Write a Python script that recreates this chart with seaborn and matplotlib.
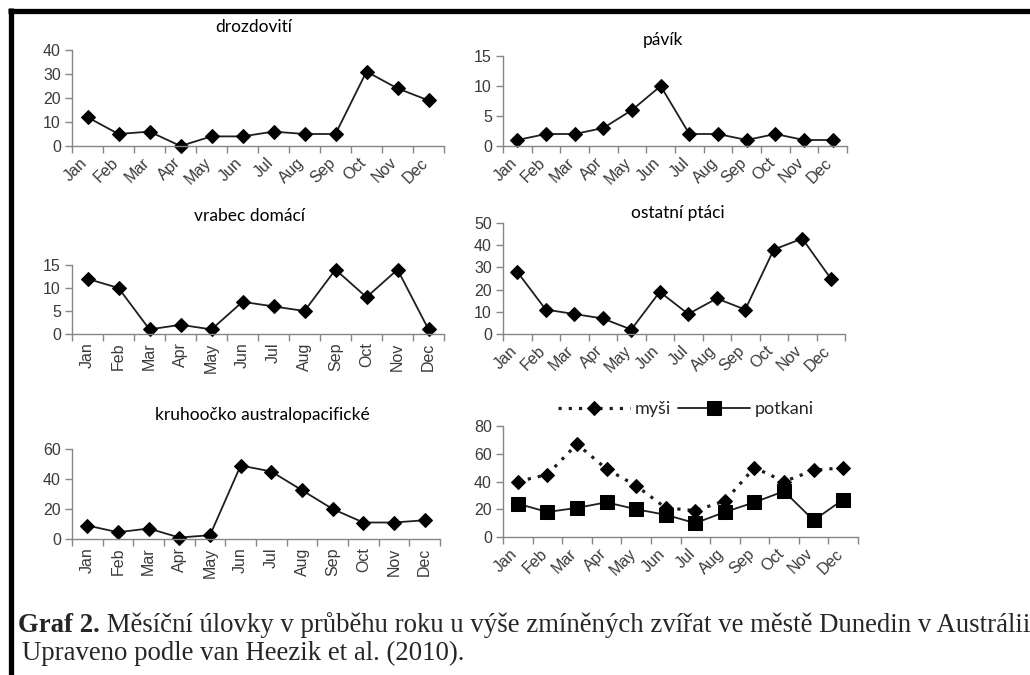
import numpy as np
import pandas as pd
import matplotlib
matplotlib.use("Agg")
import matplotlib.pyplot as plt
import matplotlib.transforms as mtransforms
from matplotlib.lines import Line2D
from matplotlib.text import Annotation
import seaborn as sns

# ---------------- data ----------------
months = ["Jan", "Feb", "Mar", "Apr", "May", "Jun",
          "Jul", "Aug", "Sep", "Oct", "Nov", "Dec"]

drozdoviti = [12, 5, 6, 0, 4, 4, 6, 5, 5, 31, 24, 19]
pavik = [1, 2, 2, 3, 6, 10, 2, 2, 1, 2, 1, 1]
vrabec = [12, 10, 1, 2, 1, 7, 6, 5, 14, 8, 14, 1]
ostatni = [28, 11, 9, 7, 2, 19, 9, 16, 11, 38, 43, 25]
kruhoocko = [9, 4.5, 7, 1, 2.5, 49, 45, 32.5, 20, 11, 11, 12.5]
mysi = [40, 45, 67, 49, 37, 21, 19, 26, 50, 40, 48, 50]
potkani = [24, 18, 21, 25, 20, 16, 10, 18, 25, 33, 12, 27]

titles = ["drozdovití", "pávík", "vrabec domácí", "ostatní ptáci",
          "kruhoočko australopacifické"]
legend_labels = ["myši", "potkani"]
caption_bold = "Graf 2."
caption_rest = " Měsíční úlovky v průběhu roku u výše zmíněných zvířat ve městě Dunedin v Austrálii"
caption_line2 = "Upraveno podle van Heezik et al. (2010)."

# ---------------- style ----------------
sns.set_style("white")
plt.rcParams["font.family"] = ["Liberation Sans", "DejaVu Sans"]

W, H = 1030, 675
fig = plt.figure(figsize=(W / 100, H / 100), dpi=100)
fig.patch.set_facecolor("white")

AXIS_C = "#868686"
TXT_C = "#3a3a3a"
LINE_C = "#1e1e1e"
TITLE_FONT = ["Lato", "DejaVu Sans"]
TICK_FS = 11.5
CAP_FS = 19.3


def px_axes(x0, x1, ytop, ybot):
    return fig.add_axes([x0 / W, 1 - ybot / H, (x1 - x0) / W, (ybot - ytop) / H])


def style_axes(ax, ymax, ystep, rot):
    ax.set_facecolor("white")
    ax.set_xlim(-0.5, 11.5)
    ax.set_ylim(0, ymax)
    ax.set_yticks(np.arange(0, ymax + 0.01, ystep))
    ax.set_xticks(range(12), labels=months)
    ax.set_xticks(np.arange(13) - 0.5, minor=True)
    for s in ["top", "right"]:
        ax.spines[s].set_visible(False)
    for s in ["left", "bottom"]:
        ax.spines[s].set_color(AXIS_C)
        ax.spines[s].set_linewidth(1.0)
    ax.tick_params(axis="y", direction="out", length=5, width=1.0, color=AXIS_C,
                   labelsize=TICK_FS, labelcolor=TXT_C, pad=3, left=True)
    ax.tick_params(axis="x", which="major", length=0, labelsize=TICK_FS,
                   labelcolor=TXT_C, bottom=True, pad=(6.5 if rot == 45 else 6))
    ax.tick_params(axis="x", which="minor", direction="out", length=5, width=1.0,
                   color=AXIS_C, bottom=True)
    ax.set_xlabel("")
    ax.set_ylabel("")
    if rot == 45:
        off = mtransforms.ScaledTranslation(-8 / 100, 0, fig.dpi_scale_trans)
        for lab in ax.get_xticklabels():
            lab.set_rotation(45)
            lab.set_ha("right")
            lab.set_va("top")
            lab.set_rotation_mode("anchor")
            lab.set_transform(lab.get_transform() + off)
    else:
        for lab in ax.get_xticklabels():
            lab.set_rotation(90)
            lab.set_ha("center")
            lab.set_va("top")


def draw_line(ax, values, **kw):
    df = pd.DataFrame({"month": months, "value": values})
    sns.lineplot(data=df, x="month", y="value", ax=ax, sort=False,
                 color=LINE_C, clip_on=False, **kw)


panels = [
    (drozdoviti, (72, 444, 50, 146), 40, 10, 45, titles[0], (254, 27)),
    (pavik, (503, 847, 56, 146), 15, 5, 45, titles[1], (663, 40)),
    (vrabec, (72, 444, 265, 334), 15, 5, 90, titles[2], (250, 216)),
    (ostatni, (503, 845, 223, 334), 50, 10, 45, titles[3], (678, 213)),
    (kruhoocko, (72, 440, 449, 539), 60, 20, 90, titles[4], (262, 415)),
]

for vals, box, ymax, ystep, rot, title, tpos in panels:
    ax = px_axes(*box)
    draw_line(ax, vals, marker="D", markersize=7.5, linewidth=1.3,
              markeredgecolor="black", markerfacecolor="black")
    style_axes(ax, ymax, ystep, rot)
    fig.text(tpos[0] / W, 1 - tpos[1] / H, title, ha="center", va="center",
             fontsize=12.5, color="black", family=TITLE_FONT)

# last panel: myši / potkani
ax6 = px_axes(503, 858, 426, 537)
draw_line(ax6, mysi, marker="D", markersize=7, linewidth=2.3,
          linestyle=(0, (1.0, 2.2)), markeredgecolor="black",
          markerfacecolor="black", label=legend_labels[0])
draw_line(ax6, potkani, marker="s", markersize=10, linewidth=1.3,
          markeredgecolor="black", markerfacecolor="black",
          label=legend_labels[1])
style_axes(ax6, 80, 20, 45)
leg = ax6.legend(loc="center", bbox_to_anchor=(686 / W, 1 - 409 / H),
                 bbox_transform=fig.transFigure, ncol=2, frameon=False,
                 handlelength=4.0, handletextpad=0.25, columnspacing=0.4,
                 prop={"family": TITLE_FONT, "size": 13})

# ---------------- caption ----------------
t1 = fig.text(18 / W, 1 - 625 / H, caption_bold, ha="left", va="center",
              fontsize=CAP_FS, fontweight="bold", family=["Liberation Serif"])
fig.add_artist(Annotation(caption_rest, xy=(1, 0), xycoords=t1,
                          ha="left", va="bottom", fontsize=CAP_FS,
                          family=["Liberation Serif"]))
fig.text(22 / W, 1 - 653 / H, caption_line2, ha="left", va="center",
         fontsize=CAP_FS, family=["Liberation Serif"])

# ---------------- frame lines (top, left) ----------------
fig.add_artist(Line2D([8 / W, 1.0], [1 - 10.5 / H, 1 - 10.5 / H],
                      transform=fig.transFigure, color="black", linewidth=3.8,
                      solid_capstyle="butt"))
fig.add_artist(Line2D([10.5 / W, 10.5 / W], [0.0, 1 - 8 / H],
                      transform=fig.transFigure, color="black", linewidth=3.8,
                      solid_capstyle="butt"))

fig.savefig("out.png", dpi=100, facecolor="white")
